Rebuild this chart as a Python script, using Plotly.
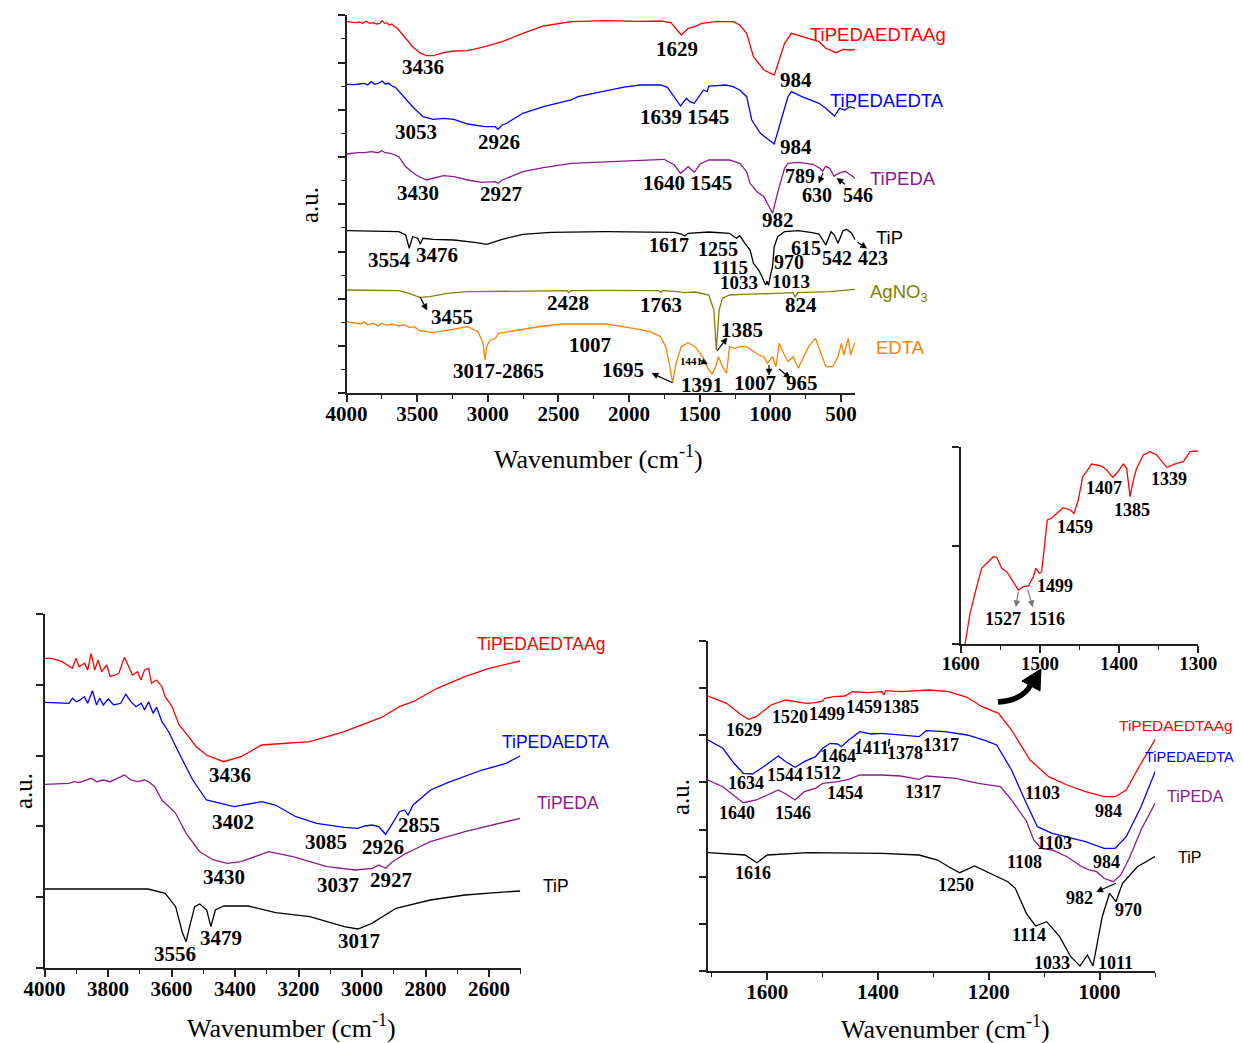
import math
import plotly.graph_objects as go

W, H = 1242, 1043
OFF = 8  # page body margin
WF, HF = W - OFF, H - OFF

# ---------------- Panel A (full spectra) ----------------
A_RED_WN = [4000, 3971, 3934, 3910, 3885, 3861, 3837, 3812, 3788, 3764, 3747, 3732, 3715, 3698, 3678, 3659, 3642, 3630, 3581, 3532, 3483, 3435, 3386, 3313, 3240, 3142, 3020, 2898, 2752, 2606, 2411, 2167, 1924, 1777, 1704, 1631, 1582, 1534, 1485, 1388, 1266, 1217, 1168, 1120, 1046, 973, 949, 900, 851, 778, 656, 608, 535, 486, 437, 400]
A_RED_Y = [371.6, 371.3, 370.6, 371.3, 370, 372, 370, 370.6, 369.3, 370, 372.6, 370, 370.6, 368, 369.3, 366.6, 365.3, 363.3, 355, 346.6, 340.6, 337.6, 337.6, 340.6, 342.3, 342.6, 346.6, 351.6, 360, 367.3, 371.6, 372.6, 372, 372.3, 370.6, 358.3, 365, 366.6, 370, 371.6, 371.6, 368.3, 360, 336.6, 323.3, 318.3, 328.3, 350, 360, 356.6, 351.6, 345, 340.6, 344, 343.3, 344]

A_BLUE_WN = [4000, 3946, 3910, 3873, 3849, 3825, 3800, 3776, 3747, 3727, 3703, 3678, 3654, 3605, 3532, 3459, 3386, 3313, 3240, 3142, 3020, 2947, 2928, 2898, 2862, 2850, 2752, 2606, 2411, 2362, 2167, 2045, 1924, 1777, 1729, 1680, 1636, 1595, 1570, 1539, 1497, 1473, 1448, 1436, 1314, 1266, 1217, 1168, 1132, 1071, 1010, 973, 924, 876, 851, 778, 656, 608, 547, 510, 474, 437, 400]
A_BLUE_Y = [309, 308.6, 309.3, 310, 308.3, 311.6, 309, 310, 312.3, 309.3, 310, 307.3, 306, 298.3, 286.6, 276.6, 274, 275, 274, 269.3, 266.6, 266.6, 264, 268.3, 270, 271.6, 280, 286.6, 293.3, 296.6, 302.6, 306, 308.3, 308.3, 306, 296.6, 287.3, 295, 291.6, 290, 298.3, 303.3, 301.6, 307.3, 308.3, 306.6, 303.3, 296.6, 273.3, 260, 253.3, 249.3, 273.3, 296.6, 301.6, 296.6, 290, 285, 277.3, 285, 283.3, 286.6, 285]

A_PURPLE_WN = [4000, 3922, 3873, 3825, 3776, 3751, 3727, 3690, 3654, 3630, 3581, 3508, 3435, 3362, 3313, 3240, 3142, 3045, 2947, 2928, 2898, 2752, 2606, 2411, 2167, 1924, 1753, 1680, 1636, 1582, 1539, 1497, 1436, 1290, 1217, 1168, 1144, 1095, 1046, 985, 950, 900, 876, 800, 700, 650, 630, 610, 580, 550, 530, 500, 470, 440, 400]
A_PURPLE_Y = [239.3, 240.6, 240.6, 241.6, 240.6, 242.6, 240.6, 240, 238.3, 236.6, 226.6, 218.3, 213.3, 216, 217.6, 216.6, 213.3, 211, 211.6, 210, 213.3, 221.6, 225.6, 230, 231.6, 233.3, 234, 228.3, 220, 226.6, 221, 229.3, 233.3, 233.3, 230, 221.6, 210, 201.6, 196.6, 180, 200, 225, 230, 231, 229, 225, 222, 227, 225, 217, 219, 221, 222, 219, 215]

A_BLACK_WN = [4000, 3630, 3581, 3556, 3532, 3496, 3478, 3459, 3386, 3240, 3093, 3008, 2898, 2752, 2557, 2167, 1680, 1631, 1607, 1582, 1436, 1290, 1241, 1217, 1180, 1144, 1120, 1083, 1059, 1034, 1024, 1013, 1000, 985, 973, 949, 900, 803, 705, 656, 608, 571, 547, 522, 486, 461, 425, 400]
A_BLACK_Y = [162.6, 161.6, 158.3, 145, 156.6, 155, 149.3, 155, 154, 153.3, 151, 149, 154, 159, 161, 161.6, 161, 159.3, 157.3, 160, 161.3, 160, 155, 157.6, 150, 143.3, 130, 123.3, 116.6, 108.3, 112, 108, 118, 126.6, 146.6, 156.6, 161.6, 162.6, 160.6, 159.3, 148.3, 161.6, 158.3, 150, 162.6, 164, 160, 153.3]

A_OLIVE_WN = [4000, 3630, 3556, 3483, 3410, 3288, 3142, 2655, 2440, 2426, 2410, 2167, 1790, 1777, 1765, 1656, 1607, 1534, 1436, 1400, 1383, 1363, 1339, 1290, 1193, 949, 840, 824, 808, 583, 400]
A_OLIVE_Y = [103.3, 102.6, 100, 96, 96.6, 100, 101.6, 102.6, 102.6, 100.6, 102.6, 103, 102.6, 101, 102.6, 101.6, 100.6, 101.3, 98.3, 83.3, 43.3, 83.3, 95, 98.3, 99, 100, 100.6, 96, 100.6, 101.6, 104]

A_ORANGE_WN = [4000, 3946, 3898, 3873, 3849, 3812, 3776, 3751, 3715, 3678, 3630, 3593, 3556, 3520, 3483, 3386, 3288, 3142, 3069, 3033, 3020, 3008, 2984, 2947, 2923, 2850, 2752, 2606, 2460, 2167, 1972, 1851, 1777, 1741, 1716, 1692, 1668, 1631, 1582, 1534, 1497, 1473, 1453, 1436, 1412, 1388, 1368, 1339, 1310, 1290, 1253, 1217, 1168, 1120, 1083, 1046, 1022, 985, 961, 937, 912, 876, 839, 803, 766, 730, 681, 644, 608, 559, 522, 498, 481, 449, 432, 413, 400]
A_ORANGE_Y = [71.6, 70.6, 69.3, 71.3, 68.3, 70, 67.3, 70, 67.9, 69.3, 67.3, 68.6, 65.9, 66.6, 62.6, 60.6, 63.3, 66.6, 61.6, 50, 33.3, 46.6, 53.3, 55, 60, 61.6, 64, 67.3, 69.3, 69.3, 65, 61.6, 56.6, 46.6, 30, 10.6, 30, 46.6, 50.6, 46.6, 40, 35, 28.3, 23.3, 19.3, 26.6, 36.6, 26.6, 20, 46.6, 45, 46.6, 46.6, 41.6, 38.3, 36.6, 30, 36.6, 26.6, 50, 41.6, 31.6, 36.6, 25, 36.6, 46.6, 55, 40, 26.6, 26.6, 36.6, 50, 38.3, 55, 38.3, 46.6, 51]

# ---------------- Panel B (4000-2500) ----------------
B_RED_WN = [3999, 3977, 3945, 3912, 3901, 3891, 3874, 3864, 3853, 3842, 3831, 3820, 3804, 3793, 3777, 3766, 3748, 3734, 3723, 3707, 3696, 3685, 3672, 3663, 3647, 3630, 3620, 3598, 3576, 3554, 3522, 3490, 3436, 3381, 3316, 3273, 3164, 3056, 2991, 2947, 2931, 2882, 2839, 2763, 2676, 2600, 2502]
B_RED_Y = [309.7, 309.7, 306.3, 299.7, 309.7, 301.3, 304.7, 298, 314.7, 298, 308, 296.3, 303, 291.3, 293, 294.7, 310.7, 301.3, 293, 296.3, 288, 298, 299.7, 284.7, 288, 281.3, 271.3, 261.3, 243, 234.7, 221.3, 213, 206.3, 211.3, 223, 224, 226.3, 236.3, 244, 249.7, 252, 261.3, 266.3, 279.7, 291.3, 299.7, 307]

B_BLUE_WN = [3999, 3923, 3912, 3899, 3888, 3874, 3864, 3849, 3836, 3826, 3815, 3799, 3782, 3760, 3744, 3728, 3712, 3695, 3685, 3672, 3658, 3647, 3630, 3609, 3576, 3533, 3490, 3403, 3316, 3273, 3208, 3143, 3056, 3013, 2991, 2969, 2947, 2926, 2904, 2882, 2866, 2855, 2839, 2784, 2730, 2622, 2546, 2502]
B_BLUE_Y = [265.7, 264.7, 269.7, 266.3, 268, 271.3, 264.7, 277.3, 263, 269.7, 263, 269, 263, 264.7, 273.7, 266.3, 261.3, 264.7, 258, 266.3, 254.7, 260.7, 246.3, 236.3, 214.7, 188, 168, 161.3, 166.3, 163, 151.3, 144.7, 140.7, 139.7, 142, 143, 141.3, 133.7, 144.7, 156.3, 158, 153, 163, 178, 185.3, 198, 204.7, 212]

B_PURPLE_WN = [3999, 3923, 3907, 3891, 3853, 3836, 3815, 3793, 3748, 3728, 3707, 3685, 3672, 3653, 3630, 3587, 3554, 3511, 3468, 3424, 3381, 3294, 3218, 3110, 3022, 2967, 2947, 2926, 2904, 2861, 2839, 2785, 2676, 2568, 2502]
B_PURPLE_Y = [183.7, 184.7, 186.3, 185.3, 189.7, 186.3, 188, 186.3, 193, 188, 186.3, 188, 186.3, 181.3, 168, 154.7, 134.7, 116.3, 108, 104.7, 106.3, 116.3, 111.3, 101.3, 98, 99.7, 103, 99.7, 106.3, 114.7, 118, 126.3, 136.3, 144.7, 149.7]

B_BLACK_WN = [3999, 3674, 3620, 3587, 3565, 3554, 3543, 3527, 3511, 3489, 3476, 3462, 3435, 3359, 3272, 3164, 3056, 3013, 2969, 2893, 2785, 2676, 2568, 2502]
B_BLACK_Y = [79, 79, 74.7, 61.3, 34.7, 26.3, 41.3, 61.3, 64, 58, 41.3, 58, 62, 62, 55.3, 51.3, 41.3, 39, 44.7, 59.7, 68, 73, 75.7, 77]

# ---------------- Panel C (1700-900) ----------------
C_RED_WN = [1707, 1673.5, 1646.8, 1633.4, 1620, 1593.3, 1566.6, 1546.5, 1529.8, 1513.1, 1499.8, 1496.4, 1479.7, 1459.7, 1446.3, 1419.6, 1392.9, 1389.5, 1386.2, 1359.5, 1326, 1306, 1272.6, 1239.2, 1212.5, 1192.4, 1182.4, 1159, 1125.6, 1092, 1058.8, 1025.4, 992, 972, 951.9, 925.2, 898.5]
C_RED_Y = [275, 267.7, 256, 251.7, 254.3, 266, 271, 269.3, 267.7, 268.3, 270, 272.7, 274.3, 275, 279.3, 278.3, 279.3, 276, 280.3, 279.3, 280.3, 281, 279.3, 273.7, 264.3, 260.3, 257.7, 241, 211, 194.3, 186, 179.3, 174.3, 174.3, 181, 207.7, 232.7]

C_BLUE_WN = [1707, 1680.2, 1660.1, 1643.4, 1626.7, 1606.7, 1580, 1566.6, 1549.9, 1533.2, 1513.1, 1499.8, 1486.4, 1473, 1466.3, 1452.9, 1432.9, 1412.8, 1392.9, 1359.5, 1326, 1312.7, 1279.3, 1239.2, 1205.8, 1185.8, 1159, 1132.3, 1112.3, 1085.6, 1058.8, 1025.4, 992, 972, 951.9, 931.9, 925.2, 898.5]
C_BLUE_Y = [231, 222.7, 207.7, 197.7, 197, 204.3, 215, 209.3, 203.7, 209.3, 214.3, 222.7, 227.7, 227, 224.3, 231, 239.3, 237, 237.7, 236, 234.3, 240.3, 239.3, 236, 230.3, 226, 201, 167.7, 144.3, 137.7, 134.3, 129.3, 122.7, 122.7, 134.3, 157.7, 164.3, 201]

C_PURPLE_WN = [1707, 1680.2, 1643.4, 1620, 1580, 1563.3, 1549.9, 1533.2, 1513.1, 1499.8, 1473, 1452.9, 1432.9, 1392.9, 1359.5, 1326, 1312.7, 1259.2, 1219.1, 1179, 1159, 1145.6, 1132.3, 1118.9, 1105.5, 1085.6, 1058.8, 1032.1, 1018.7, 1005.4, 992, 975.3, 961.9, 945.2, 925.2, 898.5]
C_PURPLE_Y = [191, 184.3, 168.3, 171, 181, 176, 171, 179.3, 182.7, 187.7, 189.3, 191.7, 196, 196, 195, 191.7, 195, 192.7, 187.7, 184.3, 171, 160, 150, 131, 122.7, 121, 114.3, 104.3, 101, 99.3, 92.7, 89.3, 96, 114.3, 141, 169.3]

C_BLACK_WN = [1707, 1640.1, 1618.7, 1600, 1526.5, 1392.9, 1326, 1292.6, 1272.6, 1252.5, 1225.8, 1192.4, 1165.7, 1152.3, 1132.3, 1115.6, 1095.6, 1072.2, 1052.1, 1035.4, 1022, 1012, 995.3, 982, 970.6, 958.6, 931.9, 898.5]
C_BLACK_Y = [118.3, 116, 108.3, 116, 118.3, 117.7, 116, 111, 104.3, 98.3, 105, 96, 89.3, 82.7, 57.7, 45, 49.3, 34.3, 14.3, 5, 16, 5, 54.3, 77.7, 69.3, 87.7, 104.3, 115]

# ---------------- Panel D (inset, 1600-1300) ----------------
D_RED_WN = [1594.5, 1588.2, 1579.8, 1573.5, 1567.2, 1558.8, 1554.5, 1548.2, 1541.9, 1535.6, 1527.2, 1520.9, 1514.6, 1508.3, 1504.9, 1500.7, 1497.8, 1490.6, 1485.2, 1481, 1470.5, 1462, 1457, 1451.5, 1446, 1441, 1434.7, 1428.3, 1422, 1415.7, 1408.1, 1403, 1394.6, 1390.4, 1386.2, 1382, 1377.8, 1369.4, 1361, 1352.5, 1339.9, 1327.3, 1318.9, 1310.4, 1299.9]
D_RED_Y = [0, 30.7, 57.3, 75.7, 80.7, 87.3, 86.7, 75.7, 72.3, 64, 54, 57.3, 58, 67.3, 75.7, 70.7, 72.3, 124, 125.7, 129, 136.3, 134, 130.7, 144, 167.3, 172.3, 180, 179, 178, 174, 166.7, 170.7, 180, 175.7, 147.3, 164, 175.7, 189, 192.3, 189, 176.7, 180.7, 182.3, 192.3, 193]

RED, BLUE, PURPLE, BLACK, OLIVE, ORANGE = "#FF0000", "#0000FF", "#8B1A8B", "#000000", "#808000", "#FF8000"

fig = go.Figure()


def add(x, y, color, xa, ya):
    fig.add_trace(go.Scatter(x=x, y=y, mode="lines", line=dict(color=color, width=1.3),
                             xaxis=xa, yaxis=ya, showlegend=False, hoverinfo="skip"))


add(A_RED_WN, A_RED_Y, RED, "x", "y")
add(A_BLUE_WN, A_BLUE_Y, BLUE, "x", "y")
add(A_PURPLE_WN, A_PURPLE_Y, PURPLE, "x", "y")
add(A_BLACK_WN, A_BLACK_Y, BLACK, "x", "y")
add(A_OLIVE_WN, A_OLIVE_Y, OLIVE, "x", "y")
add(A_ORANGE_WN, A_ORANGE_Y, ORANGE, "x", "y")

add(B_RED_WN, B_RED_Y, RED, "x2", "y2")
add(B_BLUE_WN, B_BLUE_Y, BLUE, "x2", "y2")
add(B_PURPLE_WN, B_PURPLE_Y, PURPLE, "x2", "y2")
add(B_BLACK_WN, B_BLACK_Y, BLACK, "x2", "y2")

add(C_RED_WN, C_RED_Y, RED, "x3", "y3")
add(C_BLUE_WN, C_BLUE_Y, BLUE, "x3", "y3")
add(C_PURPLE_WN, C_PURPLE_Y, PURPLE, "x3", "y3")
add(C_BLACK_WN, C_BLACK_Y, BLACK, "x3", "y3")

add(D_RED_WN, D_RED_Y, RED, "x4", "y4")


def P(x):
    return (x - OFF) / WF


def Q(y):
    return 1 - (y - OFF) / HF


AX = "#222222"
SERIF = "Liberation Serif"
SANS = "Liberation Sans"


def xaxis(l, r, rng, dtick, minor, anchor, fs=21):
    return dict(domain=[P(l), P(r)], range=rng, anchor=anchor, showline=True, linecolor=AX,
                linewidth=1.5, ticks="outside", ticklen=7, tickwidth=1.5, tickcolor=AX,
                tickmode="linear", tick0=0, dtick=dtick, showgrid=False, zeroline=False, automargin=False,
                ticklabelstandoff=-6,
                minor=dict(dtick=minor, ticks="outside", ticklen=4, tickwidth=1.2, tickcolor=AX, showgrid=False),
                tickfont=dict(family=SERIF, size=fs, color="black", weight="bold"))


def yaxis(t, b, top, dtick, minor, anchor):
    d = dict(domain=[Q(b), Q(t)], range=[0, top], anchor=anchor, showline=True, linecolor=AX,
             linewidth=1.5, ticks="outside", ticklen=7, tickwidth=1.5, tickcolor=AX,
             tickmode="linear", tick0=0, dtick=dtick, showticklabels=False, showgrid=False,
             zeroline=False, automargin=False)
    if minor:
        d["minor"] = dict(dtick=minor, ticks="outside", ticklen=4, tickwidth=1.2, tickcolor=AX, showgrid=False)
    return d


fig.update_layout(
    width=WF, height=HF, autosize=False, margin=dict(l=0, r=0, t=0, b=0, pad=0, autoexpand=False),
    paper_bgcolor="white", plot_bgcolor="white", showlegend=False,
    xaxis=xaxis(346.5, 855.2, [4000, 400], 500, 250, "y"),
    yaxis=yaxis(15.3, 393.3, 378, 47.25, 23.625, "x"),
    xaxis2=xaxis(44.5, 520.75, [4000, 2500], 200, 100, "y2"),
    yaxis2=yaxis(614, 968, 354, 70.8, None, "x2"),
    xaxis3=xaxis(708, 1155, [1707, 900], 200, 100, "y3"),
    yaxis3=yaxis(641, 971, 330, 330 / 7, None, "x3"),
    xaxis4=xaxis(960.7, 1198.3, [1600, 1300], 100, 50, "y4", fs=19),
    yaxis4=yaxis(447, 644, 197, 98.5, None, "x4"),
)

ann = []

# peak labels: (text, centre x px, centre y px, size)
PEAKS = [
    ("3436", 423, 66.7, 21), ("1629", 677, 49.3, 21), ("984", 795.6, 80, 21),
    ("3053", 416, 131.7, 21), ("2926", 499, 141.7, 21), ("1639 1545", 684.3, 116.7, 21), ("984", 795.6, 146.7, 21),
    ("3430", 418, 193.3, 21), ("2927", 500.5, 194, 21), ("1640 1545", 687, 182.7, 21), ("982", 778, 220, 21),
    ("789", 800.4, 176, 20), ("630", 817.4, 195, 20), ("546", 858, 195, 20),
    ("3554", 389.2, 260, 21), ("3476", 436.7, 255, 21), ("1617", 669.2, 245, 20), ("1255", 718.4, 249.3, 20),
    ("1115", 729.8, 267.5, 19), ("1033", 738.7, 282.5, 19), ("1013", 790.7, 281, 19), ("970", 789, 262.5, 20),
    ("615", 805.7, 248.3, 20), ("542", 836.7, 258.3, 20), ("423", 873.3, 258.3, 20),
    ("3455", 451.9, 316.7, 21), ("2428", 568, 303.3, 21), ("1763", 660.6, 305, 21), ("824", 800.7, 305, 21),
    ("1385", 742.3, 330, 21), ("1007", 590, 345, 21), ("3017-2865", 498.4, 370.7, 21), ("1695", 623.4, 370, 21),
    ("1441", 690.9, 360.7, 11), ("1391", 701.9, 385, 21), ("1007", 755, 383.3, 21), ("965", 802.3, 383.3, 21),
    # panel B
    ("3436", 229.7, 775, 21), ("3402", 232.8, 821.7, 21), ("2855", 419, 825, 21), ("3085", 326, 841.7, 21),
    ("2926", 383, 846.7, 21), ("3430", 224.5, 877.3, 21), ("3037", 337.8, 885, 21), ("2927", 390.8, 880, 21),
    ("3556", 175, 954, 21), ("3479", 220.7, 938.3, 21), ("3017", 358.8, 940.7, 21),
    # panel C
    ("1629", 744, 730, 18), ("1520", 790.2, 716.7, 18), ("1499", 827.2, 714.3, 18), ("1459", 863.8, 707.3, 18),
    ("1385", 901.2, 707.3, 18), ("1634", 746.2, 782.7, 18), ("1544", 785, 775, 18), ("1512", 823.2, 772.5, 18),
    ("1464", 837.6, 756, 18), ("1411", 871.2, 748.3, 18), ("1378", 905.3, 753.3, 18), ("1317", 941.2, 745, 18),
    ("1640", 736.6, 813.3, 18), ("1546", 792.8, 813.3, 18), ("1454", 844.6, 792.7, 18), ("1317", 922.7, 791.7, 18),
    ("1103", 1042.9, 792.7, 18), ("984", 1108.4, 810.7, 18), ("1103", 1054.4, 843.3, 18), ("984", 1106.5, 861.7, 18),
    ("1108", 1024.4, 861.7, 18), ("982", 1079.9, 898.3, 18), ("970", 1128.7, 910, 18), ("1616", 753.2, 873.3, 18),
    ("1250", 955.6, 885, 18), ("1114", 1028.8, 935, 18), ("1033", 1052.2, 962.7, 18), ("1011", 1115, 962.7, 18),
    # inset
    ("1527", 1002.7, 619.3, 18), ("1516", 1046.7, 619.3, 18), ("1499", 1055, 586, 18), ("1459", 1075, 527.3, 18),
    ("1407", 1104, 488.3, 18), ("1385", 1131.7, 510, 18), ("1339", 1168.7, 479, 18),
]
for t, x, y, s in PEAKS:
    ann.append(dict(text=t, x=P(x), y=Q(y), xref="paper", yref="paper", showarrow=False,
                    xanchor="center", yanchor="middle",
                    font=dict(family=SERIF, size=s, color="black", weight="bold")))

# series names: (text, left x px, centre y px, size, colour)
NAMES = [
    ("TiPEDAEDTAAg", 808, 35, 18.5, RED), ("TiPEDAEDTA", 828, 100, 18.5, BLUE), ("TiPEDA", 868, 179, 18.5, PURPLE),
    ("TiP", 874, 237, 18.5, BLACK), ("AgNO<sub>3</sub>", 868, 293, 18.5, OLIVE), ("EDTA", 874, 347, 18.5, ORANGE),
    ("TiPEDAEDTAAg", 475, 644, 17.5, RED), ("TiPEDAEDTA", 500, 742, 17.5, BLUE), ("TiPEDA", 535, 803, 17.5, PURPLE),
    ("TiP", 541, 886, 17.5, BLACK),
    ("TiPEDAEDTAAg", 1117, 725, 15.5, RED), ("TiPEDAEDTA", 1143, 757, 14.5, BLUE), ("TiPEDA", 1165, 796, 16, PURPLE),
    ("TiP", 1176, 857, 16, BLACK),
]
for t, x, y, s, c in NAMES:
    ann.append(dict(text=t, x=P(x), y=Q(y), xref="paper", yref="paper", showarrow=False,
                    xanchor="left", yanchor="middle", font=dict(family=SANS, size=s, color=c)))

# axis titles
for x, y in [(598, 457), (291, 1026), (945, 1027)]:
    ann.append(dict(text="Wavenumber (cm<sup>-1</sup>)", x=P(x), y=Q(y), xref="paper", yref="paper",
                    showarrow=False, xanchor="center", yanchor="middle",
                    font=dict(family=SERIF, size=26, color="black")))
for x, y in [(309, 205), (23, 791), (680, 797)]:
    ann.append(dict(text="a.u.", x=P(x), y=Q(y), xref="paper", yref="paper", showarrow=False,
                    textangle=-90, xanchor="center", yanchor="middle",
                    font=dict(family=SERIF, size=25, color="black")))

fig.update_layout(annotations=ann)


def path(points, close=False):
    s = "M " + " L ".join(f"{P(x)},{Q(y)}" for x, y in points)
    return s + (" Z" if close else "")


shapes = []


def arrow(hx, hy, tx, ty, color, hl=6.0, hw=3.0, lw=1.2):
    dx, dy = hx - tx, hy - ty
    n = math.hypot(dx, dy)
    ux, uy = dx / n, dy / n
    bx, by = hx - hl * ux, hy - hl * uy
    shapes.append(dict(type="path", path=path([(tx, ty), (bx + 0.5 * ux, by + 0.5 * uy)]), xref="paper",
                       yref="paper", line=dict(color=color, width=lw)))
    shapes.append(dict(type="path", path=path([(hx, hy), (bx - hw * uy, by + hw * ux), (bx + hw * uy, by - hw * ux)], True),
                       xref="paper", yref="paper", fillcolor=color, line=dict(color=color, width=0.5)))


# small arrows: (head x, head y, tail x, tail y, colour)
ARROWS = [
    (427, 310, 420, 297, BLACK), (819, 183, 823, 173, BLACK), (837, 178.3, 845, 184.3, BLACK),
    (866.7, 248.3, 857.7, 242.3, BLACK), (727, 338, 717, 351, BLACK), (652, 373.3, 672.6, 382.7, BLACK),
    (707.5, 364, 699.5, 360, BLACK), (769, 375, 769, 365, BLACK), (790, 378, 779, 369, BLACK),
    (1096.7, 891.7, 1116, 883.3, BLACK),
    (1016, 606.7, 1018.3, 591.7, "#777777"), (1032.7, 606.7, 1027.7, 589.7, "#777777"),
]
for hx, hy, tx, ty, c in ARROWS:
    arrow(hx, hy, tx, ty, c)

# big curved arrow pointing to the inset
curve = f"M {P(998)},{Q(702)} Q {P(1024)},{Q(700)} {P(1031)},{Q(684)}"
shapes.append(dict(type="path", path=curve, xref="paper", yref="paper", line=dict(color="black", width=5.5)))
shapes.append(dict(type="path", path=path([(1041, 669), (1022, 681), (1040, 691)], True), xref="paper",
                   yref="paper", fillcolor="black", line=dict(color="black", width=1)))
# tiny marks above 1411 / 1378
for x in (860, 889.5):
    shapes.append(dict(type="line", x0=P(x), y0=Q(739), x1=P(x - 1), y1=Q(746), xref="paper", yref="paper",
                       line=dict(color="black", width=1.5)))
fig.update_layout(shapes=shapes)

fig.write_html("out.html")
